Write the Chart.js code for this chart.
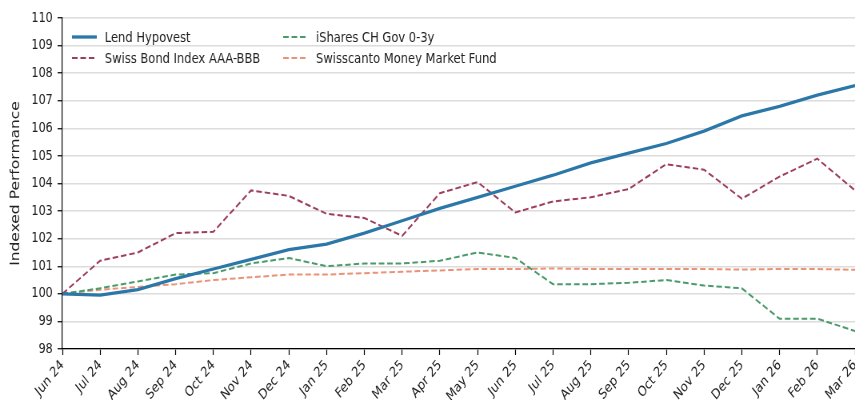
<!DOCTYPE html>
<html>
<head>
<meta charset="utf-8">
<script src="https://cdn.jsdelivr.net/npm/chart.js@4.4.1/dist/chart.umd.min.js"></script>
<style>
html,body{margin:0;padding:0;background:#fff;}
#wrap{width:855px;height:400px;position:relative;overflow:hidden;}
#c{transform:scaleX(0.79982);transform-origin:0 0;display:block;}
</style>
</head>
<body>
<div id="wrap"><canvas id="c" width="1069" height="400"></canvas></div>
<script>
const months = ["Jun 24","Jul 24","Aug 24","Sep 24","Oct 24","Nov 24","Dec 24","Jan 25","Feb 25","Mar 25","Apr 25","May 25","Jun 25","Jul 25","Aug 25","Sep 25","Oct 25","Nov 25","Dec 25","Jan 26","Feb 26","Mar 26"];
const lendHypovest = [100,99.95,100.15,100.55,100.9,101.25,101.6,101.8,102.2,102.65,103.1,103.5,103.9,104.3,104.75,105.1,105.45,105.9,106.45,106.8,107.2,107.55];
const swissBond = [100,101.2,101.5,102.2,102.25,103.75,103.55,102.9,102.75,102.1,103.65,104.05,102.95,103.35,103.5,103.8,104.7,104.5,103.45,104.25,104.9,103.75];
const iSharesGov = [100,100.2,100.45,100.7,100.75,101.1,101.3,101.0,101.1,101.1,101.2,101.5,101.3,100.35,100.35,100.4,100.5,100.3,100.2,99.1,99.1,98.65];
const swisscantoMM = [100,100.15,100.25,100.35,100.5,100.6,100.7,100.7,100.75,100.8,100.85,100.9,100.9,100.92,100.9,100.9,100.9,100.9,100.88,100.9,100.9,100.87];
const seriesNames = ["Lend Hypovest","Swiss Bond Index AAA-BBB","iShares CH Gov 0-3y","Swisscanto Money Market Fund"];
const yTicks = [98,99,100,101,102,103,104,105,106,107,108,109,110];

const FONT = "'DejaVu Sans', sans-serif";
const DASH = [7,3.5];

const legendPlugin = {
  id: 'insideLegend',
  afterDatasetsDraw(chart) {
    const ctx = chart.ctx;
    const ds = chart.data.datasets;
    const cols = [90, 354];
    const rows = [37, 58];
    const order = [[0,0],[1,0],[0,1],[1,1]];
    ctx.save();
    ctx.font = "14.4px " + FONT;
    ctx.textBaseline = 'middle';
    ctx.textAlign = 'left';
    ds.forEach((d,i) => {
      const [r,c] = order[i];
      const x = cols[c], y = rows[r];
      ctx.beginPath();
      ctx.strokeStyle = d.borderColor;
      ctx.lineWidth = d.borderWidth;
      ctx.setLineDash(d.borderDash || []);
      ctx.moveTo(x, y); ctx.lineTo(x+31, y);
      ctx.stroke();
      ctx.setLineDash([]);
      ctx.fillStyle = '#222';
      ctx.fillText(d.label, x+41, y+1);
    });
    ctx.restore();
  }
};

new Chart(document.getElementById('c'), {
  type: 'line',
  data: {
    labels: months,
    datasets: [
      {label: seriesNames[0], data: lendHypovest, borderColor:'#2b77a8', borderWidth:3.3, pointRadius:0, tension:0},
      {label: seriesNames[1], data: swissBond, borderColor:'#9e3e5e', borderWidth:2, borderDash:DASH, pointRadius:0, tension:0},
      {label: seriesNames[2], data: iSharesGov, borderColor:'#4a9a6a', borderWidth:2, borderDash:DASH, pointRadius:0, tension:0},
      {label: seriesNames[3], data: swisscantoMM, borderColor:'#ea9278', borderWidth:2, borderDash:DASH, pointRadius:0, tension:0}
    ]
  },
  options: {
    responsive:false,
    animation:false,
    devicePixelRatio:1,
    layout:{padding:{top:18,left:0,right:0,bottom:0}},
    plugins:{legend:{display:false}, tooltip:{enabled:false}},
    scales:{
      x:{
        offset:false,
        grid:{drawOnChartArea:false, drawTicks:true, tickLength:6, tickColor:'#000', tickWidth:1.2},
        border:{color:'#000', width:1.2},
        ticks:{maxRotation:45, minRotation:45, autoSkip:false, padding:2, color:'#222', font:{family:FONT, size:14}},
        afterFit(scale){ scale.height = 51; scale.paddingRight = 0; }
      },
      y:{
        min:98, max:110,
        afterBuildTicks(scale){ scale.ticks = yTicks.map(v => ({value:v})); },
        grid:{color:'#dcdcdc', lineWidth:1.5, drawTicks:true, tickLength:6, tickColor:'#000', tickWidth:1.2},
        border:{color:'#000', width:1.2},
        ticks:{padding:6, color:'#222', font:{family:FONT, size:14}},
        title:{display:true, text:'Indexed Performance', color:'#222', font:{family:FONT, size:15.5}, padding:{top:11,bottom:0}},
        afterFit(scale){ scale.width = 78; }
      }
    }
  },
  plugins:[legendPlugin]
});
</script>
</body>
</html>
